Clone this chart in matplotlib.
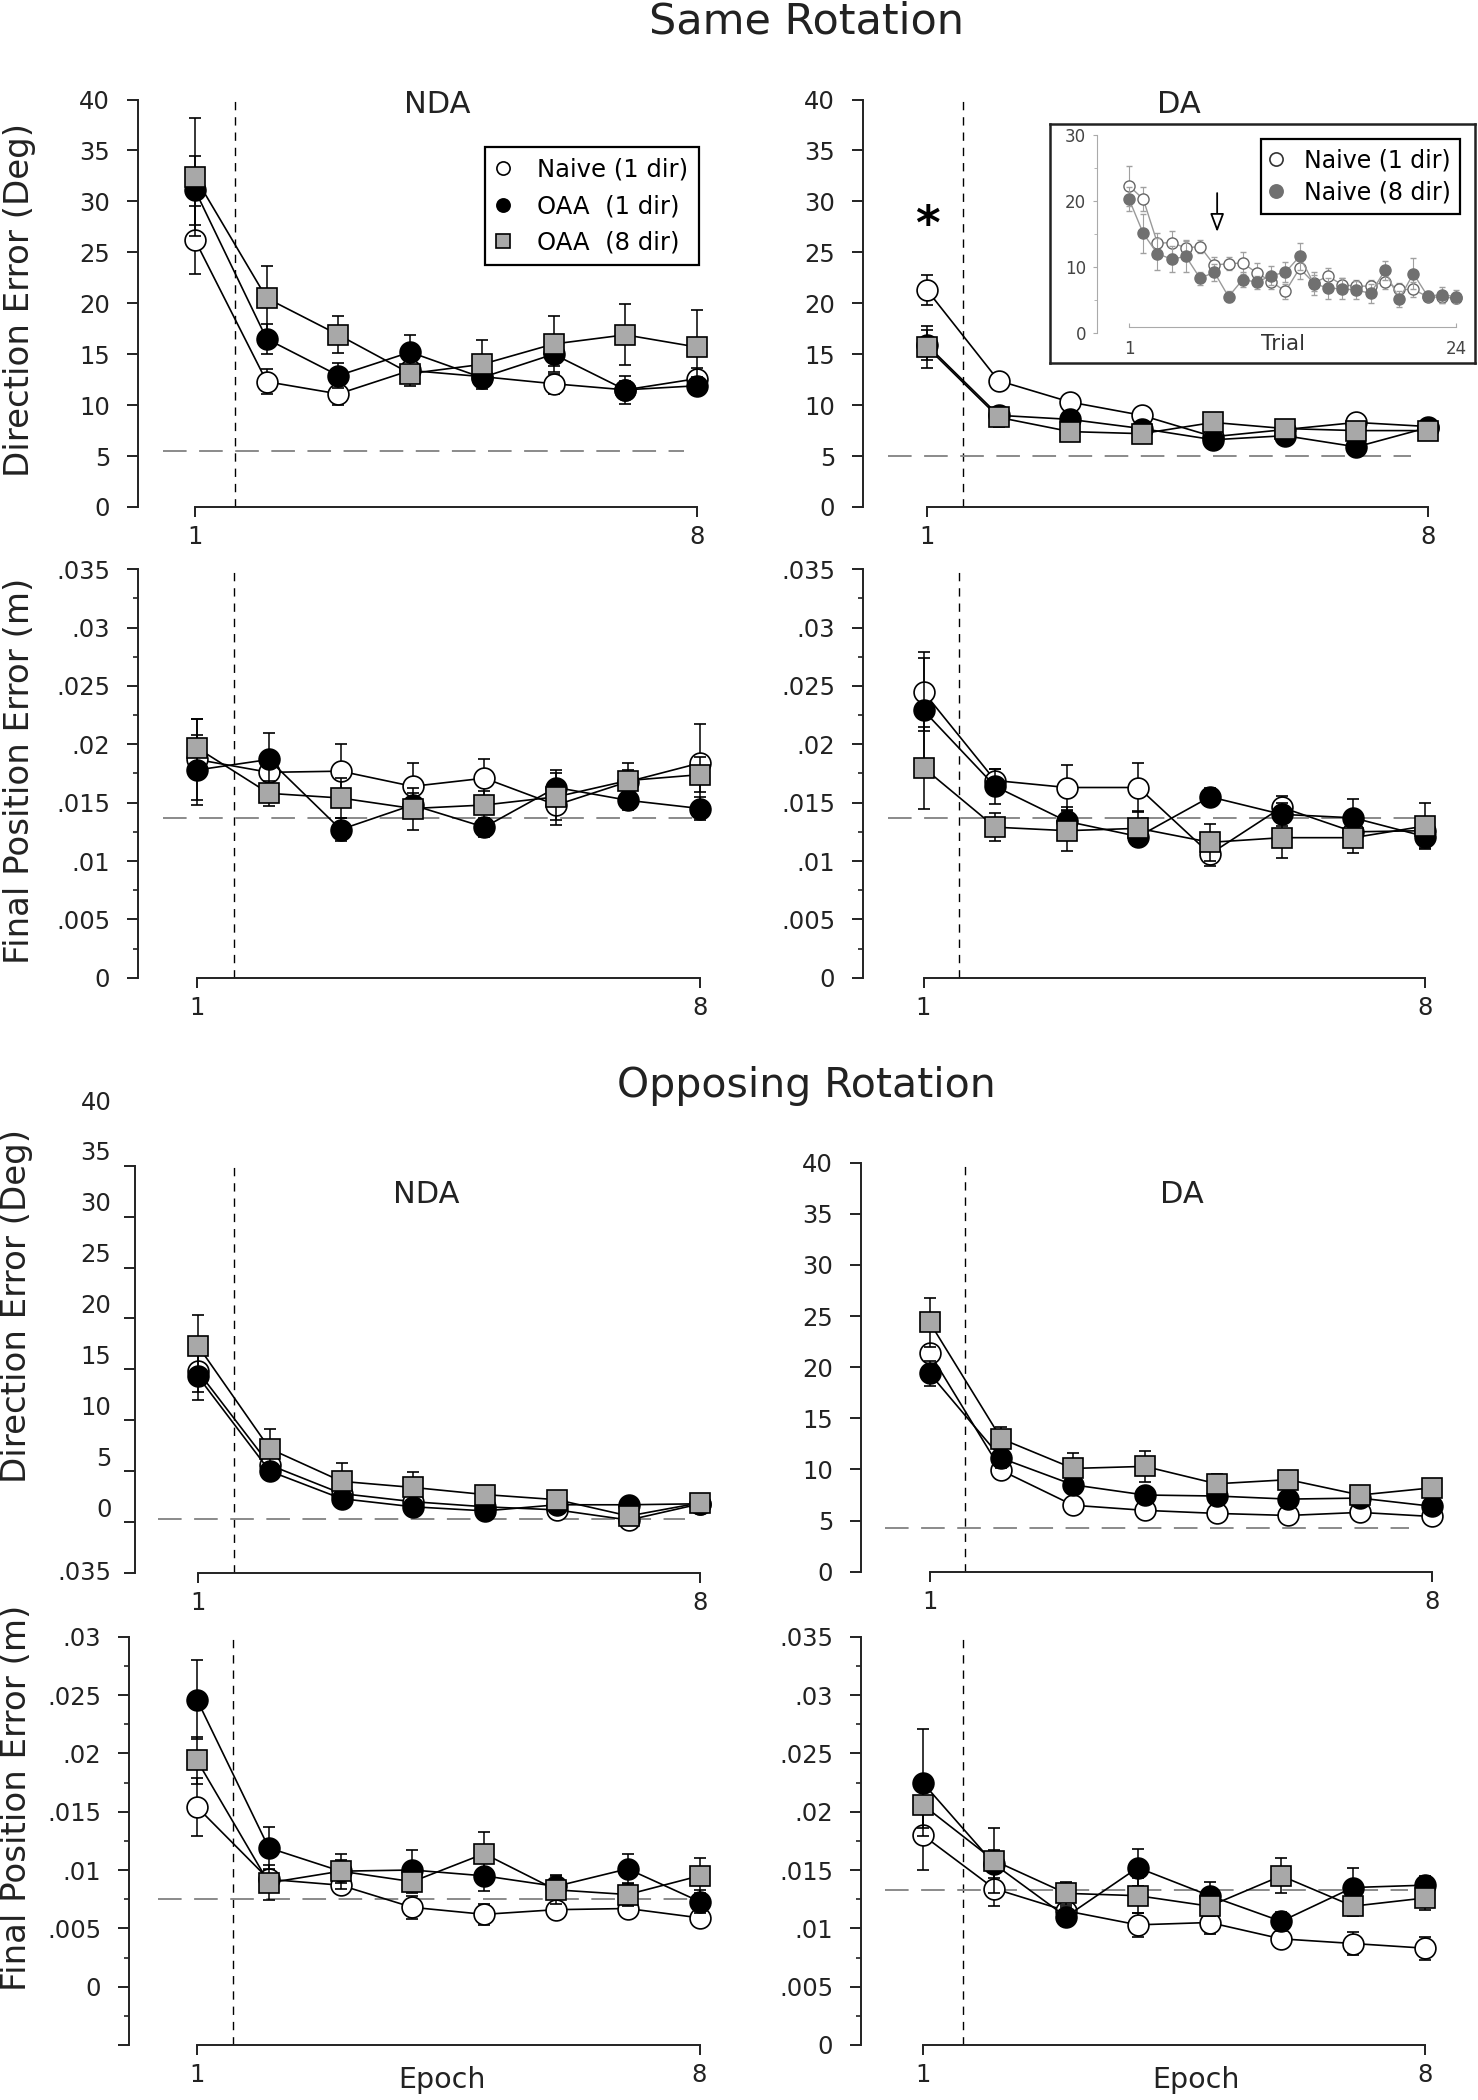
import numpy as np
import matplotlib
matplotlib.use("Agg")
import matplotlib.pyplot as plt
from matplotlib.lines import Line2D
from matplotlib.ticker import FuncFormatter, MultipleLocator

plt.rcParams["font.family"] = ["DejaVu Sans"]
plt.rcParams["lines.scale_dashes"] = False

W, H = 1478, 2100

epochs = np.arange(1, 9)
group_labels = ["Naive (1 dir)", "OAA  (1 dir)", "OAA  (8 dir)"]

# --- Same rotation, NDA, direction error (deg)
same_nda_dir_naive = [26.2, 12.3, 11.1, 13.4, 12.8, 12.1, 11.5, 12.6]
same_nda_dir_naive_se = [3.3, 1.2, 1.1, 1.0, 0.8, 1.0, 0.9, 1.0]
same_nda_dir_oaa1 = [31.1, 16.5, 12.9, 15.2, 12.7, 15.0, 11.5, 11.9]
same_nda_dir_oaa1_se = [3.4, 1.5, 1.2, 1.7, 0.7, 1.2, 1.4, 0.9]
same_nda_dir_oaa8 = [32.4, 20.5, 16.9, 13.1, 14.0, 16.0, 16.9, 15.7]
same_nda_dir_oaa8_se = [5.8, 3.2, 1.8, 1.2, 2.4, 2.7, 3.0, 3.6]
same_nda_dir_base = 5.5

# --- Same rotation, DA, direction error (deg)
same_da_dir_naive = [21.3, 12.4, 10.3, 9.0, 6.9, 7.6, 8.3, 7.9]
same_da_dir_naive_se = [1.5, 0.6, 0.6, 0.6, 0.6, 0.6, 0.6, 0.6]
same_da_dir_oaa1 = [15.9, 9.0, 8.6, 7.7, 6.6, 7.0, 5.9, 7.8]
same_da_dir_oaa1_se = [1.5, 0.8, 0.6, 0.6, 0.5, 0.6, 0.6, 0.5]
same_da_dir_oaa8 = [15.7, 8.8, 7.4, 7.2, 8.3, 7.7, 7.5, 7.5]
same_da_dir_oaa8_se = [2.1, 0.9, 0.6, 0.6, 0.6, 0.6, 0.6, 0.5]
same_da_dir_base = 5.0

# --- Same rotation, NDA, final position error (m)
same_nda_fpe_naive = [0.0187, 0.0176, 0.0177, 0.0164, 0.0171, 0.0148, 0.0168, 0.0184]
same_nda_fpe_naive_se = [0.0035, 0.0012, 0.0023, 0.0020, 0.0016, 0.0017, 0.0010, 0.0033]
same_nda_fpe_oaa1 = [0.0178, 0.0187, 0.0127, 0.0148, 0.0129, 0.0163, 0.0152, 0.0145]
same_nda_fpe_oaa1_se = [0.0030, 0.0023, 0.0010, 0.0010, 0.0008, 0.0015, 0.0008, 0.0010]
same_nda_fpe_oaa8 = [0.0197, 0.0158, 0.0154, 0.0145, 0.0148, 0.0155, 0.0169, 0.0174]
same_nda_fpe_oaa8_se = [0.0025, 0.0011, 0.0017, 0.0018, 0.0012, 0.0020, 0.0015, 0.0015]
same_nda_fpe_base = 0.0137

# --- Same rotation, DA, final position error (m)
same_da_fpe_naive = [0.0245, 0.0169, 0.0163, 0.0163, 0.0106, 0.0146, 0.0125, 0.0126]
same_da_fpe_naive_se = [0.0034, 0.0010, 0.0019, 0.0021, 0.0010, 0.0010, 0.0008, 0.0008]
same_da_fpe_oaa1 = [0.0229, 0.0164, 0.0134, 0.0121, 0.0155, 0.0140, 0.0137, 0.0121]
same_da_fpe_oaa1_se = [0.0045, 0.0015, 0.0012, 0.0008, 0.0008, 0.0010, 0.0016, 0.0010]
same_da_fpe_oaa8 = [0.0180, 0.0129, 0.0126, 0.0128, 0.0116, 0.0120, 0.0120, 0.0130]
same_da_fpe_oaa8_se = [0.0035, 0.0012, 0.0017, 0.0015, 0.0016, 0.0017, 0.0013, 0.0020]
same_da_fpe_base = 0.0137

# --- Opposing rotation, NDA, direction error (deg)
opp_nda_dir_naive = [14.8, 5.6, 2.8, 2.0, 1.5, 1.2, 0.2, 1.8]
opp_nda_dir_naive_se = [2.0, 0.8, 0.6, 0.6, 0.5, 0.5, 0.5, 0.4]
opp_nda_dir_oaa1 = [14.3, 5.0, 2.3, 1.5, 1.1, 1.7, 1.7, 1.8]
opp_nda_dir_oaa1_se = [2.3, 0.8, 0.6, 0.5, 0.5, 0.5, 0.5, 0.4]
opp_nda_dir_oaa8 = [17.3, 7.2, 4.0, 3.4, 2.7, 2.2, 0.6, 1.9]
opp_nda_dir_oaa8_se = [3.0, 1.9, 1.8, 1.5, 0.6, 0.6, 0.6, 0.5]
opp_nda_dir_base = 0.35

# --- Opposing rotation, DA, direction error (deg)
opp_da_dir_naive = [21.4, 9.9, 6.5, 6.0, 5.7, 5.5, 5.8, 5.4]
opp_da_dir_naive_se = [0.8, 0.8, 0.5, 0.5, 0.5, 0.5, 0.5, 0.5]
opp_da_dir_oaa1 = [19.4, 11.1, 8.5, 7.5, 7.4, 7.1, 7.2, 6.4]
opp_da_dir_oaa1_se = [1.2, 1.0, 0.8, 0.8, 0.6, 0.6, 0.6, 0.5]
opp_da_dir_oaa8 = [24.4, 13.0, 10.1, 10.3, 8.6, 9.0, 7.5, 8.2]
opp_da_dir_oaa8_se = [2.4, 1.2, 1.5, 1.5, 1.0, 0.8, 0.6, 0.6]
opp_da_dir_base = 4.3

# --- Opposing rotation, NDA, final position error (m)
opp_nda_fpe_naive = [0.0154, 0.0092, 0.0087, 0.0068, 0.0062, 0.0066, 0.0067, 0.0059]
opp_nda_fpe_naive_se = [0.0025, 0.0008, 0.0006, 0.0010, 0.0009, 0.0006, 0.0006, 0.0005]
opp_nda_fpe_oaa1 = [0.0246, 0.0119, 0.0099, 0.0100, 0.0095, 0.0086, 0.0101, 0.0073]
opp_nda_fpe_oaa1_se = [0.0034, 0.0018, 0.0010, 0.0017, 0.0013, 0.0010, 0.0013, 0.0010]
opp_nda_fpe_oaa8 = [0.0194, 0.0089, 0.0099, 0.0090, 0.0114, 0.0083, 0.0079, 0.0095]
opp_nda_fpe_oaa8_se = [0.0020, 0.0015, 0.0015, 0.0010, 0.0019, 0.0012, 0.0010, 0.0015]
opp_nda_fpe_base = 0.0075

# --- Opposing rotation, DA, final position error (m)
opp_da_fpe_naive = [0.0180, 0.0134, 0.0115, 0.0103, 0.0105, 0.0091, 0.0087, 0.0083]
opp_da_fpe_naive_se = [0.0030, 0.0015, 0.0008, 0.0010, 0.0010, 0.0008, 0.0010, 0.0010]
opp_da_fpe_oaa1 = [0.0225, 0.0155, 0.0110, 0.0152, 0.0128, 0.0106, 0.0135, 0.0137]
opp_da_fpe_oaa1_se = [0.0046, 0.0012, 0.0008, 0.0016, 0.0012, 0.0008, 0.0017, 0.0008]
opp_da_fpe_oaa8 = [0.0206, 0.0158, 0.0130, 0.0128, 0.0119, 0.0145, 0.0119, 0.0126]
opp_da_fpe_oaa8_se = [0.0020, 0.0028, 0.0010, 0.0015, 0.0008, 0.0015, 0.0008, 0.0010]
opp_da_fpe_base = 0.0133

# --- inset: trial by trial, DA same rotation
trials = np.arange(1, 25)
inset_naive1 = [22.3, 20.3, 13.6, 13.7, 12.9, 13.1, 10.3, 10.5, 10.6, 9.1, 7.8, 6.3,
                9.8, 7.6, 8.6, 7.3, 7.1, 7.1, 7.8, 6.6, 6.6, 5.5, 5.4, 5.3]
inset_naive1_se = [3.0, 1.8, 1.5, 1.8, 1.2, 1.0, 1.2, 1.0, 1.6, 1.5, 1.2, 1.2,
                   1.6, 1.2, 1.2, 1.0, 1.0, 1.0, 1.2, 1.0, 1.2, 0.6, 0.8, 0.8]
inset_naive8 = [20.3, 15.1, 12.0, 11.2, 11.6, 8.3, 9.2, 5.5, 8.1, 7.7, 8.7, 9.2,
                11.6, 7.5, 6.8, 6.7, 6.5, 6.0, 9.5, 5.1, 9.0, 5.6, 5.8, 5.5]
inset_naive8_se = [1.8, 3.0, 2.4, 2.0, 2.3, 1.0, 1.3, 0.8, 1.2, 1.0, 1.5, 1.5,
                   2.0, 1.7, 1.6, 1.6, 1.4, 1.5, 1.4, 1.2, 2.4, 0.8, 1.2, 1.0]
inset_labels = ["Naive (1 dir)", "Naive (8 dir)"]
inset_arrow_trial = 7.2

fig = plt.figure(figsize=(W / 100, H / 100), dpi=100)


def fpe_fmt(v, pos=None):
    if abs(v) < 1e-9:
        return "0"
    return ("%g" % round(v, 4)).lstrip("0")


def add_panel(spine, e1, e8, top, bottom, ylim, xr=8.3):
    ppe = (e8 - e1) / 7.0
    xl = 1 - (e1 - spine) / ppe
    ax = fig.add_axes([spine / W, 1 - bottom / H, (xr - xl) * ppe / W, (bottom - top) / H])
    ax.set_xlim(xl, xr)
    ax.set_ylim(*ylim)
    ax.patch.set_alpha(0)
    for s in ("top", "right"):
        ax.spines[s].set_visible(False)
    for s in ("left", "bottom"):
        ax.spines[s].set_linewidth(1.4)
        ax.spines[s].set_color("#222222")
    ax.spines["bottom"].set_bounds(1, 8)
    ax.set_xticks([1, 8])
    ax.tick_params(axis="x", direction="out", length=7, width=1.4, pad=6,
                   labelsize=17.5, colors="#222222")
    ax.tick_params(axis="y", which="major", direction="out", length=8, width=1.4,
                   pad=12, labelsize=17.5, colors="#222222")
    ax.tick_params(axis="y", which="minor", direction="out", length=3.5, width=1.2,
                   colors="#222222")
    return ax


def draw_groups(ax, naive, naive_se, oaa1, oaa1_se, oaa8, oaa8_se, base, base_ext, vline=1.5):
    ax.axvline(vline, color="black", lw=1.0, dashes=(6, 5), zorder=1)
    ax.plot(base_ext, [base, base], color="#8a8a8a", lw=1.4, dashes=(17, 9), zorder=2)
    styles = [
        (naive, naive_se, dict(marker="o", mfc="white", ms=15)),
        (oaa1, oaa1_se, dict(marker="o", mfc="black", ms=15)),
        (oaa8, oaa8_se, dict(marker="s", mfc="#a8a8a8", ms=14.5)),
    ]
    for i, (vals, se, st) in enumerate(styles):
        ax.errorbar(epochs, vals, yerr=se, color="black", lw=1.2, mec="black", mew=1.2,
                    ecolor="black", elinewidth=1.1, capsize=4, capthick=1.1,
                    zorder=3 + i, **st)


def dir_axis(ax):
    ax.yaxis.set_major_locator(MultipleLocator(5))


def fpe_axis(ax):
    ax.yaxis.set_major_locator(MultipleLocator(0.005))
    ax.yaxis.set_minor_locator(MultipleLocator(0.0025))
    ax.yaxis.set_major_formatter(FuncFormatter(fpe_fmt))


# ---------------- Same rotation
axA = add_panel(138, 195, 697, 99.5, 507, (0, 40))
dir_axis(axA)
draw_groups(axA, same_nda_dir_naive, same_nda_dir_naive_se, same_nda_dir_oaa1,
            same_nda_dir_oaa1_se, same_nda_dir_oaa8, same_nda_dir_oaa8_se,
            same_nda_dir_base, [0.55, 7.82], vline=1.56)

axB = add_panel(863, 927, 1428, 99.5, 507, (0, 40))
dir_axis(axB)
draw_groups(axB, same_da_dir_naive, same_da_dir_naive_se, same_da_dir_oaa1,
            same_da_dir_oaa1_se, same_da_dir_oaa8, same_da_dir_oaa8_se,
            same_da_dir_base, [0.46, 7.76])
axB.annotate("*", xy=(1, 29.3), xytext=(0, -13), textcoords="offset points",
             ha="center", va="center", fontsize=34, fontweight="bold")

axC = add_panel(138, 197, 700, 569.3, 977.7, (0, 0.035))
fpe_axis(axC)
draw_groups(axC, same_nda_fpe_naive, same_nda_fpe_naive_se, same_nda_fpe_oaa1,
            same_nda_fpe_oaa1_se, same_nda_fpe_oaa8, same_nda_fpe_oaa8_se,
            same_nda_fpe_base, [0.53, 8.0], vline=1.52)

axD = add_panel(863, 923.5, 1425, 569.3, 977.7, (0, 0.035))
fpe_axis(axD)
draw_groups(axD, same_da_fpe_naive, same_da_fpe_naive_se, same_da_fpe_oaa1,
            same_da_fpe_oaa1_se, same_da_fpe_oaa8, same_da_fpe_oaa8_se,
            same_da_fpe_base, [0.50, 8.1])

# ---------------- Opposing rotation
axE = add_panel(135, 198, 700.5, 1165.7, 1573, (-5, 35))
axE.set_yticks(np.arange(-5, 36, 5))
axE.set_yticklabels([])
for v in range(0, 45, 5):
    axE.annotate(str(v), xy=(0, v + 1.2), xycoords=axE.get_yaxis_transform(),
                 xytext=(-17, 0), textcoords="offset points", ha="right", va="center",
                 fontsize=17.5, color="#222222", annotation_clip=False)
axE.annotate(".035", xy=(0, -5), xycoords=axE.get_yaxis_transform(),
             xytext=(-17, 0), textcoords="offset points", ha="right", va="center",
             fontsize=17.5, color="#222222", annotation_clip=False)
draw_groups(axE, opp_nda_dir_naive, opp_nda_dir_naive_se, opp_nda_dir_oaa1,
            opp_nda_dir_oaa1_se, opp_nda_dir_oaa8, opp_nda_dir_oaa8_se,
            opp_nda_dir_base, [0.44, 7.78])

axF = add_panel(861, 929.6, 1431.8, 1162.7, 1571.7, (0, 40))
dir_axis(axF)
draw_groups(axF, opp_da_dir_naive, opp_da_dir_naive_se, opp_da_dir_oaa1,
            opp_da_dir_oaa1_se, opp_da_dir_oaa8, opp_da_dir_oaa8_se,
            opp_da_dir_base, [0.38, 7.68])

axG = add_panel(129, 197, 699.5, 1636.7, 2045, (-0.005, 0.03))
axG.set_yticks(np.arange(-0.005, 0.0301, 0.005))
axG.yaxis.set_minor_locator(MultipleLocator(0.0025))
axG.set_yticklabels([""] + [fpe_fmt(v) for v in np.arange(0, 0.0301, 0.005)])
draw_groups(axG, opp_nda_fpe_naive, opp_nda_fpe_naive_se, opp_nda_fpe_oaa1,
            opp_nda_fpe_oaa1_se, opp_nda_fpe_oaa8, opp_nda_fpe_oaa8_se,
            opp_nda_fpe_base, [0.46, 8.0])

axH = add_panel(861, 922.6, 1424.7, 1636.7, 2045, (0, 0.035))
fpe_axis(axH)
draw_groups(axH, opp_da_fpe_naive, opp_da_fpe_naive_se, opp_da_fpe_oaa1,
            opp_da_fpe_oaa1_se, opp_da_fpe_oaa8, opp_da_fpe_oaa8_se,
            opp_da_fpe_base, [0.47, 7.77], vline=1.57)

for ax, xe in ((axG, 4.41), (axH, 4.81)):
    ax.annotate("Epoch", xy=(xe, 0), xycoords=ax.get_xaxis_transform(),
                xytext=(0, -31), textcoords="offset points", ha="center",
                va="baseline", fontsize=20.5, color="#222222", annotation_clip=False)

# panel captions
for txt, xc, yb in (("NDA", 437, 113), ("DA", 1179, 113),
                    ("NDA", 426, 1203), ("DA", 1182, 1203)):
    fig.text(xc / W, 1 - yb / H, txt, ha="center", va="baseline", fontsize=22,
             color="#222222")

fig.text(806 / W, 1 - 33 / H, "Same Rotation", ha="center", va="baseline", fontsize=31,
         color="#222222")
fig.text(806 / W, 1 - 1097 / H, "Opposing Rotation", ha="center", va="baseline",
         fontsize=29.5, color="#222222")

for txt, xc, yc in (("Direction Error (Deg)", 20, 300), ("Final Position Error (m)", 20, 771),
                    ("Direction Error (Deg)", 17, 1306), ("Final Position Error (m)", 17, 1798)):
    fig.text(xc / W, 1 - yc / H, txt, rotation=90, ha="center", va="center",
             fontsize=24.5, color="#222222")

# legend for groups
handles = [
    Line2D([], [], ls="none", marker="o", mfc="white", mec="black", ms=9.5, mew=1.2),
    Line2D([], [], ls="none", marker="o", mfc="black", mec="black", ms=9.5, mew=1.2),
    Line2D([], [], ls="none", marker="s", mfc="#a8a8a8", mec="black", ms=9.5, mew=1.2),
]
leg = axA.legend(handles, group_labels, loc="upper left", bbox_to_anchor=(485 / W, 1 - 147 / H),
                 bbox_transform=fig.transFigure, fontsize=17.5, frameon=True, fancybox=False,
                 edgecolor="black", framealpha=1, borderpad=0.45, labelspacing=0.5,
                 handlelength=0.6, handletextpad=1.1, borderaxespad=0)
leg.get_frame().set_linewidth(1.6)

# ---------------- inset
frame = fig.add_axes([1050 / W, 1 - 363 / H, 425 / W, 239 / H], zorder=5)
frame.set_xticks([])
frame.set_yticks([])
for s in frame.spines.values():
    s.set_linewidth(1.8)
    s.set_color("#222222")

ppt = (1456 - 1129) / 23.0
t_left = 1 - (1129 - 1097) / ppt
t_right = 24.8
ax_in = fig.add_axes([1097 / W, 1 - 333 / H, (t_right - t_left) * ppt / W, 198 / H], zorder=6)
ax_in.patch.set_alpha(0)
ax_in.set_xlim(t_left, t_right)
ax_in.set_ylim(0, 30)
for s in ("top", "right"):
    ax_in.spines[s].set_visible(False)
ax_in.spines["left"].set_color("#aaaaaa")
ax_in.spines["bottom"].set_color("#aaaaaa")
ax_in.spines["bottom"].set_position(("data", 0.9))
ax_in.spines["bottom"].set_bounds(1, 24)
ax_in.set_xticks([1, 24])
ax_in.yaxis.set_major_locator(MultipleLocator(10))
ax_in.yaxis.set_minor_locator(MultipleLocator(5))
ax_in.tick_params(axis="x", direction="in", length=3, color="#aaaaaa", pad=9,
                  labelsize=12, labelcolor="#444444")
ax_in.tick_params(axis="y", which="major", direction="out", length=3, color="#aaaaaa",
                  pad=5, labelsize=12, labelcolor="#444444")
ax_in.tick_params(axis="y", which="minor", direction="out", length=2, color="#aaaaaa")
ax_in.annotate("Trial", xy=(11.8, 0.9), xycoords="data", xytext=(0, -12),
               textcoords="offset points", ha="center", va="center", fontsize=15.5,
               color="#333333", annotation_clip=False)

ax_in.errorbar(trials, inset_naive1, yerr=inset_naive1_se, color="#999999", lw=1.0,
               marker="o", ms=8, mfc="white", mec="#666666", mew=1.0,
               ecolor="#a0a0a0", elinewidth=0.8, capsize=2, capthick=0.8, zorder=3)
ax_in.errorbar(trials, inset_naive8, yerr=inset_naive8_se, color="#999999", lw=1.0,
               marker="o", ms=8, mfc="#707070", mec="#707070", mew=1.0,
               ecolor="#a0a0a0", elinewidth=0.8, capsize=2, capthick=0.8, zorder=4)
ax_in.annotate("", xy=(inset_arrow_trial, 15.3), xytext=(inset_arrow_trial, 21.2),
               arrowprops=dict(arrowstyle="-|>,head_length=0.8,head_width=0.3",
                               fc="white", ec="black", lw=1.3, mutation_scale=14,
                               shrinkA=0, shrinkB=0))

in_handles = [
    Line2D([], [], ls="none", marker="o", mfc="white", mec="#333333", ms=9.5, mew=1.2),
    Line2D([], [], ls="none", marker="o", mfc="#707070", mec="#707070", ms=9.5, mew=1.2),
]
leg_in = ax_in.legend(in_handles, inset_labels, loc="upper left",
                      bbox_to_anchor=(1261 / W, 1 - 139 / H), bbox_transform=fig.transFigure,
                      fontsize=17, frameon=True, fancybox=False, edgecolor="black",
                      framealpha=1, borderpad=0.4, labelspacing=0.35, handlelength=0.5,
                      handletextpad=0.9, borderaxespad=0)
leg_in.get_frame().set_linewidth(1.6)

fig.savefig("out.png", dpi=100)
